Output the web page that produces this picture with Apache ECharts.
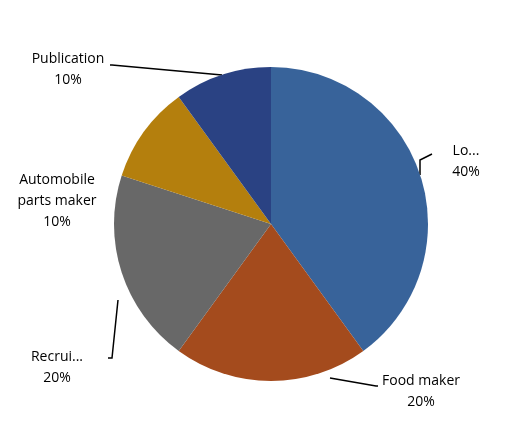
<!DOCTYPE html>
<html><head><meta charset="utf-8">
<script src="https://cdn.jsdelivr.net/npm/echarts@6/dist/echarts.min.js"></script>
</head><body style="margin:0">
<div id="c" style="width:510px;height:440px"></div>
<script>
const categories = ["Logistics","Food maker","Recruitment","Automobile\nparts maker","Publication"];
const values = [40,20,20,10,10];
const colors = ["#38639A","#A44B1D","#686868","#B47F0D","#2A4283"];
const labelSpots = [
  {x:466,y:162,line:[[420,175],[420,160],[432,154]]},
  {x:421,y:392,line:[[330,378],[376,386],[378,386]]},
  {x:57,y:368,line:[[118,300],[112,358],[108,358]]},
  {x:57,y:201,line:[[118,201],[118,201],[118,201]]},
  {x:68,y:70,line:[[222,75],[112,65],[110,65]]}
];
const chart = echarts.init(document.getElementById('c'));
chart.setOption({
  animation:false,
  backgroundColor:'#fff',
  series:[{
    type:'pie',
    center:[271,224],
    radius:157,
    startAngle:90,
    clockwise:true,
    data:categories.map((n,i)=>({name:n,value:values[i],itemStyle:{color:colors[i]},labelLine:{show:i!==3}})),
    label:{formatter:'{b}\n{c}%',color:'#000',fontSize:14,lineHeight:21,fontFamily:'Open Sans',align:'center'},
    labelLine:{show:true,lineStyle:{color:'#000',width:1.5}},
    labelLayout:function(p){const s=labelSpots[p.dataIndex];return {x:s.x,y:s.y,align:'center',verticalAlign:'middle',labelLinePoints:s.line};}
  }]
});
</script></body></html>
